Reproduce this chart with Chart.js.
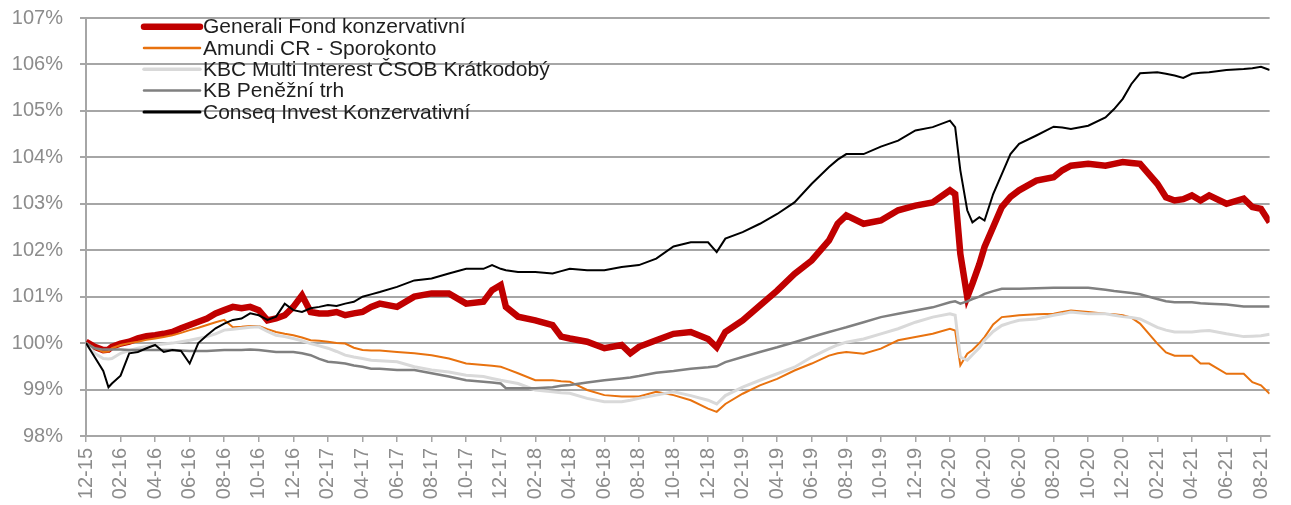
<!DOCTYPE html>
<html>
<head>
<meta charset="utf-8">
<script src="https://cdn.jsdelivr.net/npm/chart.js@4.4.1/dist/chart.umd.min.js"></script>
<style>
  html, body { margin: 0; padding: 0; background: #fff; }
  #wrap { width: 1291px; height: 505px; }
</style>
</head>
<body>
<div id="wrap"><canvas id="funds" width="1291" height="505"></canvas></div>
<script>
// months since 12-2015 (0 = Dec 2015)
var months = [0, 0.5, 1, 1.3, 1.5, 2, 2.5, 3, 3.5, 4, 4.5, 5, 5.5, 6, 6.5, 7, 7.5, 8, 8.5, 9, 9.5,
  10, 10.5, 11, 11.5, 12, 12.5, 13, 13.5, 14, 14.5, 15, 15.5, 16, 16.5, 17, 18, 19, 20, 21, 22, 23,
  23.5, 24, 24.3, 25, 26, 27, 27.5, 28, 29, 30, 31, 31.5, 32, 33, 34, 35, 36, 36.5, 37, 38, 39, 40,
  41, 42, 43, 43.5, 44, 45, 46, 47, 48, 49, 50, 50.3, 50.6, 51, 51.3, 51.7, 52, 52.5, 53, 53.5, 54,
  55, 56, 56.5, 57, 58, 59, 59.5, 60, 60.5, 61, 62, 62.5, 63, 63.5, 64, 64.5, 65, 66, 67, 67.5, 68, 68.5];

var generali = [100.03, 99.92, 99.85, 99.86, 99.92, 99.99, 100.03, 100.1, 100.15, 100.17, 100.2, 100.24, 100.32, 100.39, 100.46, 100.53, 100.64, 100.71, 100.78, 100.75, 100.78,
  100.71, 100.49, 100.53, 100.6, 100.78, 101.03, 100.67, 100.64, 100.64, 100.67, 100.6, 100.64, 100.67, 100.78, 100.85, 100.78, 101.0, 101.07, 101.07, 100.85, 100.89,
  101.14, 101.25, 100.78, 100.57, 100.49, 100.39, 100.14, 100.1, 100.03, 99.89, 99.96, 99.78, 99.92, 100.06, 100.2, 100.24, 100.09, 99.91, 100.24, 100.49, 100.81, 101.13,
  101.49, 101.78, 102.21, 102.57, 102.75, 102.57, 102.64, 102.86, 102.96, 103.03, 103.29, 103.21, 101.92, 100.99, 101.28, 101.7, 102.07, 102.5, 102.93, 103.15, 103.29,
  103.5, 103.57, 103.72, 103.82, 103.86, 103.82, 103.86, 103.9, 103.88, 103.86, 103.43, 103.14, 103.07, 103.1, 103.18, 103.07, 103.18, 103.0, 103.11, 102.93, 102.89, 102.6];

var amundi = [100.0, 99.89, 99.81, 99.82, 99.89, 99.96, 100.0, 100.03, 100.07, 100.1, 100.13, 100.17, 100.22, 100.28, 100.33, 100.39, 100.45, 100.5, 100.34, 100.35, 100.37,
  100.37, 100.3, 100.24, 100.2, 100.17, 100.12, 100.06, 100.05, 100.03, 100.0, 99.99, 99.9, 99.85, 99.84, 99.84, 99.81, 99.78, 99.74, 99.67, 99.56, 99.53,
  99.51, 99.49, 99.45, 99.35, 99.2, 99.2, 99.18, 99.17, 98.99, 98.88, 98.85, 98.85, 98.85, 98.95, 98.88, 98.77, 98.59, 98.52, 98.69, 98.91, 99.09, 99.23,
  99.41, 99.56, 99.73, 99.78, 99.81, 99.77, 99.88, 100.06, 100.13, 100.2, 100.31, 100.27, 99.52, 99.77, 99.85, 100.0, 100.13, 100.4, 100.56, 100.58, 100.6,
  100.62, 100.63, 100.67, 100.7, 100.67, 100.63, 100.62, 100.6, 100.55, 100.42, 99.99, 99.8, 99.73, 99.73, 99.73, 99.56, 99.56, 99.34, 99.34, 99.16, 99.09, 98.91];

var kbc = [100.0, 99.78, 99.67, 99.66, 99.67, 99.78, 99.84, 99.89, 99.93, 99.96, 99.98, 100.0, 100.03, 100.06, 100.1, 100.14, 100.2, 100.28, 100.3, 100.32, 100.34,
  100.35, 100.25, 100.17, 100.14, 100.1, 100.05, 99.99, 99.94, 99.89, 99.82, 99.74, 99.7, 99.67, 99.63, 99.62, 99.6, 99.49, 99.42, 99.38, 99.31, 99.28,
  99.24, 99.2, 99.18, 99.13, 98.99, 98.95, 98.93, 98.92, 98.81, 98.74, 98.74, 98.77, 98.81, 98.88, 98.95, 98.87, 98.77, 98.69, 98.87, 99.05, 99.2, 99.34,
  99.48, 99.7, 99.88, 99.96, 100.02, 100.09, 100.2, 100.31, 100.45, 100.56, 100.63, 100.6, 99.7, 99.63, 99.75, 99.9, 100.06, 100.25, 100.38, 100.44, 100.49,
  100.52, 100.6, 100.63, 100.67, 100.63, 100.63, 100.6, 100.57, 100.55, 100.52, 100.34, 100.28, 100.24, 100.24, 100.24, 100.26, 100.27, 100.2, 100.14, 100.15, 100.16, 100.19];

var kb = [100.0, 99.89, 99.86, 99.86, 99.86, 99.86, 99.85, 99.85, 99.85, 99.85, 99.85, 99.85, 99.84, 99.83, 99.83, 99.83, 99.84, 99.85, 99.85, 99.85, 99.86,
  99.85, 99.83, 99.81, 99.81, 99.81, 99.78, 99.74, 99.66, 99.6, 99.58, 99.56, 99.52, 99.49, 99.45, 99.45, 99.42, 99.42, 99.35, 99.28, 99.2, 99.17,
  99.15, 99.13, 99.03, 99.03, 99.03, 99.05, 99.08, 99.1, 99.15, 99.2, 99.24, 99.26, 99.29, 99.36, 99.4, 99.45, 99.48, 99.5, 99.59, 99.7, 99.81, 99.91,
  100.02, 100.13, 100.24, 100.29, 100.34, 100.45, 100.56, 100.63, 100.7, 100.77, 100.88, 100.9, 100.85, 100.9, 100.95, 101.0, 101.06, 101.12, 101.17, 101.17, 101.17,
  101.18, 101.19, 101.19, 101.19, 101.19, 101.15, 101.12, 101.1, 101.08, 101.05, 100.95, 100.9, 100.88, 100.88, 100.88, 100.86, 100.85, 100.83, 100.79, 100.79, 100.79, 100.79];

var conseq = [100.0, 99.7, 99.4, 99.05, 99.13, 99.3, 99.78, 99.81, 99.89, 99.96, 99.81, 99.85, 99.83, 99.56, 100.0, 100.17, 100.32, 100.42, 100.5, 100.53, 100.64,
  100.6, 100.5, 100.57, 100.85, 100.71, 100.67, 100.75, 100.78, 100.82, 100.8, 100.85, 100.89, 101.0, 101.05, 101.1, 101.21, 101.35, 101.39, 101.5, 101.6, 101.6,
  101.68, 101.6, 101.57, 101.53, 101.53, 101.5, 101.55, 101.6, 101.57, 101.57, 101.64, 101.66, 101.68, 101.82, 102.08, 102.17, 102.17, 101.96, 102.25, 102.39, 102.57, 102.78,
  103.03, 103.43, 103.79, 103.95, 104.07, 104.07, 104.23, 104.36, 104.58, 104.65, 104.79, 104.65, 103.72, 102.86, 102.6, 102.71, 102.64, 103.21, 103.64, 104.07, 104.29,
  104.47, 104.66, 104.64, 104.61, 104.68, 104.86, 105.04, 105.26, 105.58, 105.81, 105.83, 105.8, 105.76, 105.71, 105.8, 105.82, 105.83, 105.88, 105.9, 105.92, 105.95, 105.88];

var tickLabels = ['12-15', '02-16', '04-16', '06-16', '08-16', '10-16', '12-16', '02-17', '04-17', '06-17',
  '08-17', '10-17', '12-17', '02-18', '04-18', '06-18', '08-18', '10-18', '12-18', '02-19', '04-19', '06-19',
  '08-19', '10-19', '12-19', '02-20', '04-20', '06-20', '08-20', '10-20', '12-20', '02-21', '04-21', '06-21', '08-21'];

var seriesNames = ['Generali Fond konzervativní', 'Amundi CR - Sporokonto', 'KBC Multi Interest ČSOB Krátkodobý', 'KB Peněžní trh', 'Conseq Invest Konzervativní'];

function points(values) {
  return values.map(function (v, i) { return { x: months[i], y: v }; });
}

// legend drawn inside the plot, top left
var insideLegend = {
  id: 'insideLegend',
  afterDatasetsDraw: function (chart) {
    var ctx = chart.ctx;
    ctx.save();
    chart.data.datasets.forEach(function (ds, i) {
      var y = 26.7 + i * 21.3;
      ctx.strokeStyle = ds.borderColor;
      ctx.lineWidth = ds.legendWidth;
      ctx.lineCap = 'round';
      ctx.beginPath();
      ctx.moveTo(144, y);
      ctx.lineTo(200, y);
      ctx.stroke();
      ctx.fillStyle = '#1e1e1e';
      ctx.font = '21px "Liberation Sans", Arial, sans-serif';
      ctx.textBaseline = 'middle';
      ctx.fillText(ds.label, 203, y + 1);
    });
    ctx.restore();
  }
};

var ctx = document.getElementById('funds').getContext('2d');
new Chart(ctx, {
  type: 'line',
  data: {
    datasets: [
      { label: seriesNames[0], data: points(generali), borderColor: '#c00000', borderWidth: 6.5, legendWidth: 6.5, order: 5 },
      { label: seriesNames[1], data: points(amundi), borderColor: '#e8720f', borderWidth: 2, legendWidth: 2.5, order: 4 },
      { label: seriesNames[2], data: points(kbc), borderColor: '#d9d9d9', borderWidth: 3, legendWidth: 3.5, order: 3 },
      { label: seriesNames[3], data: points(kb), borderColor: '#808080', borderWidth: 2.5, legendWidth: 2.5, order: 2 },
      { label: seriesNames[4], data: points(conseq), borderColor: '#000000', borderWidth: 2, legendWidth: 3, order: 1 }
    ]
  },
  options: {
    responsive: false,
    animation: false,
    devicePixelRatio: 1,
    layout: { padding: { top: 18, right: 0, left: 0, bottom: 0 } },
    elements: { point: { radius: 0 }, line: { tension: 0 } },
    plugins: {
      legend: { display: false },
      tooltip: { enabled: false }
    },
    scales: {
      x: {
        type: 'linear',
        min: 0,
        max: 68.5,
        afterBuildTicks: function (scale) {
          scale.ticks = tickLabels.map(function (t, i) { return { value: i * 2 }; });
        },
        afterFit: function (scale) { scale.height = 69; },
        ticks: {
          autoSkip: false,
          minRotation: 90,
          maxRotation: 90,
          padding: 6,
          color: '#8c8c8c',
          font: { family: '"Liberation Sans", Arial, sans-serif', size: 20 },
          callback: function (value) { return tickLabels[Math.round(value / 2)]; }
        },
        grid: { drawOnChartArea: false, drawTicks: true, tickLength: 6, color: '#a6a6a6', lineWidth: 1.5 },
        border: { color: '#a6a6a6', width: 2 }
      },
      y: {
        min: 98,
        max: 107,
        afterFit: function (scale) {
          scale.width = 86;
          scale.paddingTop = 0;
          scale.paddingBottom = 0;
        },
        ticks: {
          stepSize: 1,
          padding: 17,
          color: '#8c8c8c',
          font: { family: '"Liberation Sans", Arial, sans-serif', size: 20 },
          callback: function (value) { return value + '%'; }
        },
        grid: { color: '#a6a6a6', lineWidth: 2, tickLength: 6 },
        border: { color: '#a6a6a6', width: 2 }
      }
    }
  },
  plugins: [insideLegend]
});
</script>
</body>
</html>
